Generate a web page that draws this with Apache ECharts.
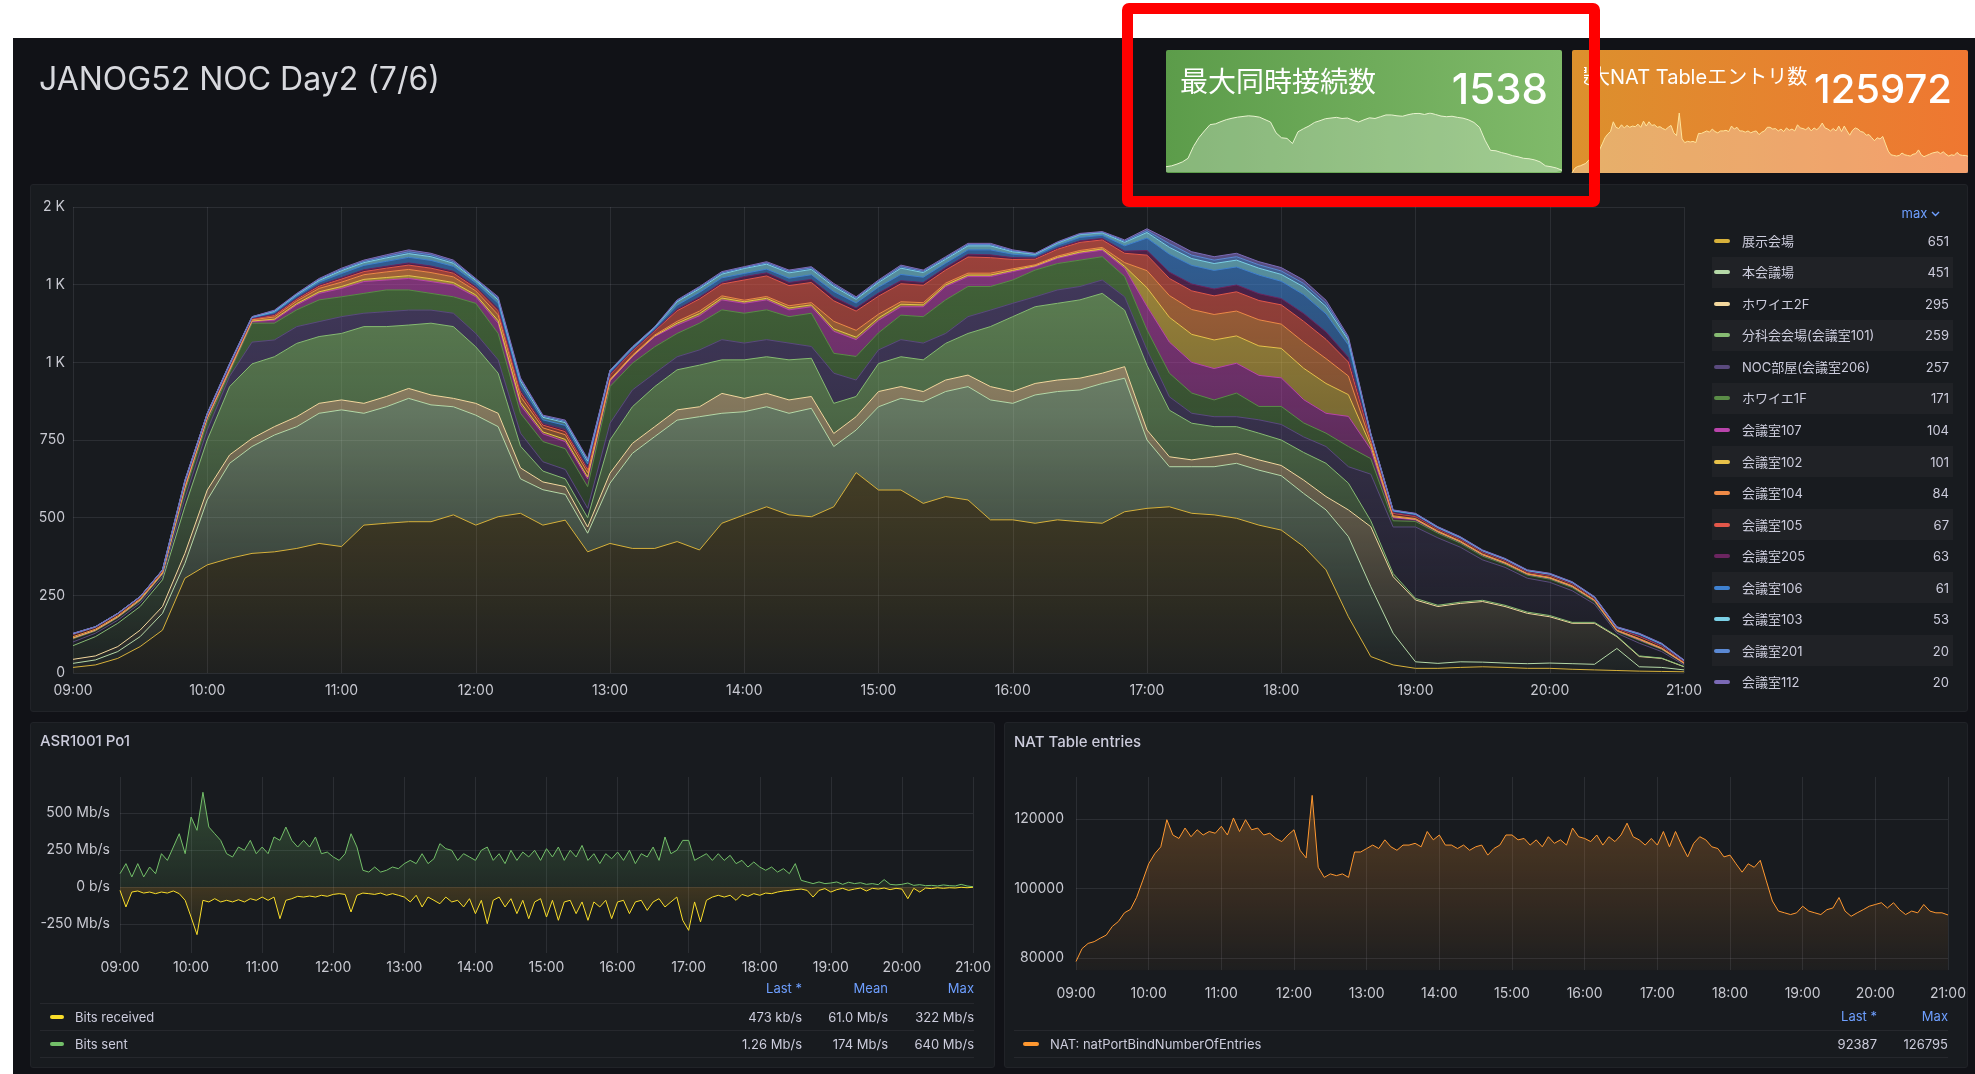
<!DOCTYPE html>
<html>
<head>
<meta charset="utf-8">
<title>JANOG52 NOC Day2</title>
<script src="https://cdn.jsdelivr.net/npm/echarts@6/dist/echarts.min.js"></script>
<style>
html, body { margin: 0; padding: 0; background: #fff; }
body { width: 1975px; height: 1074px; position: relative; overflow: hidden;
       font-family: Inter, "Noto Sans CJK JP", sans-serif; }
.abs { position: absolute; }
#dash { left: 13px; top: 38px; width: 1962px; height: 1036px; background: #111217; }
.panel { position: absolute; background: #181b1f; border: 1px solid #212328; border-radius: 3px; box-sizing: border-box; }
#chart { left: 0; top: 0; width: 1975px; height: 1074px; z-index: 2; }
.txt { position: absolute; color: #ccccdc; white-space: nowrap; z-index: 3; }
.blue { color: #6e9fff; }
.sw { position: absolute; height: 4px; border-radius: 2px; z-index: 3; }
.row { position: absolute; background: #202226; z-index: 1; }
.sep { position: absolute; height: 1px; background: #26282d; z-index: 1; }
.stat { position: absolute; border-radius: 2px; }
#natTitle { position: absolute; left: 1584px; top: 63px; width: 224px; height: 28px; overflow: hidden; z-index: 3; }
#natTitle span { position: absolute; left: -14px; top: 0; line-height: 28px; font-size: 20px; color: #fff; white-space: nowrap; }
#redbox { left: 1122px; top: 3px; width: 478px; height: 204px; border: 11px solid #ff0000;
          border-radius: 7px; box-sizing: border-box; z-index: 5; }
</style>
</head>
<body>
<div id="dash" class="abs"></div>
<div class="panel" style="left:30px;top:184px;width:1938px;height:528px;"></div>
<div class="panel" style="left:30px;top:722px;width:965px;height:346px;"></div>
<div class="panel" style="left:1004px;top:722px;width:964px;height:346px;"></div>
<div class="stat" style="left:1166px;top:50px;width:396px;height:123px;background:linear-gradient(90deg,#5c9c4a,#80ba6a);"></div>
<div class="stat" style="left:1572px;top:50px;width:396px;height:123px;background:linear-gradient(90deg,#dc902d,#ef7731);"></div>
<div id="chart" class="abs"></div>
<div id="labels"></div>
<div id="natTitle"><span>最大NAT Tableエントリ数</span></div>
<div id="redbox" class="abs"></div>

<script>
// 接続数 (10分毎 09:00-21:00)
var rooms = ['展示会場', '本会議場', 'ホワイエ2F', '分科会会場(会議室101)', 'NOC部屋(会議室206)', 'ホワイエ1F',
  '会議室107', '会議室102', '会議室104', '会議室105', '会議室205', '会議室106', '会議室103', '会議室201', '会議室112'];
var roomColors = ['#d7b13b', '#b5d9a8', '#f3d89e', '#86bb72', '#5a4a7e', '#5a8c47', '#b944ab', '#e8c24a',
  '#ee8a47', '#e2574a', '#6b2560', '#3f81d0', '#7bd0e6', '#5b89d4', '#7b6ab6'];
var roomMax = ['651', '451', '295', '259', '257', '171', '104', '101', '84', '67', '63', '61', '53', '20', '20'];

var tenji = [18,26,47,85,138,305,348,369,385,390, 401,417,407,476,482,487,487,509,476,503,
  514,476,492,390,417,401,401,423,396,482, 509,535,509,503,535,645,589,589,546,568,
  557,493,493,482,493,487,482,519,530,535, 514,509,498,476,460,407,332,181,53,26,
  15,15,18,20,18,15,15,12,10,8, 6,5,4];
var honkaigi = [13,16,22,32,54,48,209,306,344,376, 392,419,440,360,375,397,376,348,354,290,
  111,114,83,60,194,306,360,391,429,354, 332,322,327,349,194,137,268,295,327,338,
  365,386,375,413,413,424,450,430,220,129, 150,155,177,177,175,171,193,258,225,102,
  21,16,18,15,14,15,17,18,18,71, 14,13,6];
var foyer2f = [13,13,16,21,22,32,32,27,26,27, 32,32,32,32,33,32,32,27,38,43,
  35,25,25,20,32,32,32,33,32,64, 43,43,43,38,42,43,49,38,33,37,
  37,43,38,37,37,38,33,37,32,32, 22,32,32,33,33,43,43,86,193,182,
  199,183,188,195,182,162,149,130,132,38, 33,29,10];
var bunka = [44,62,75,76,86,150,161,220,240,225, 236,215,214,247,225,204,231,231,182,129,
  70,35,25,30,107,118,129,129,134,108, 124,118,129,123,97,65,90,96,102,118,
  134,193,241,247,247,252,257,182,208,150, 118,97,86,86,82,89,107,86,19,10,
  5,4,4,4,4,4,4,3,3,2, 2,1,1];
var noc = [12,11,10,11,10,27,32,33,70,54, 54,48,54,43,48,48,42,43,43,43,
  42,30,30,30,54,54,43,42,49,65, 54,55,54,38,97,53,44,55,54,32,
  54,53,43,32,43,43,43,43,50,43, 32,32,32,43,50,50,54,53,150,150,
  230,217,177,130,122,109,107,102,59,9, 41,21,5];
var foyer1f = [10,7,8,7,8,22,27,13,61,54, 54,70,64,64,70,65,54,53,97,85,
  64,65,67,70,118,86,85,75,86,96, 96,96,85,107,64,76,55,79,85,108,
  97,76,75,86,85,85,75,65,64,76, 65,54,76,43,58,45,43,65,50,20,
  18,15,13,12,10,10,10,10,8,6, 9,7,4];
var r107 = [2,2,2,3,2,10,11,6,5,10, 16,21,27,38,32,37,38,38,21,33,
  26,25,23,25,18,21,33,27,24,32, 32,32,22,21,71,54,40,27,32,43,
  32,32,27,11,17,22,21,27,76,100, 99,101,96,100,92,75,64,97,30,10,
  5,4,4,4,3,3,3,3,3,2, 2,2,1];
var r102 = [1,1,1,1,1,2,1,2,2,3, 4,5,6,7,8,9,9,8,6,8, 9,6,7,6,2,2,2,6,7,6,
  5,5,6,6,8,8,8,8,6,5, 5,5,4,3,3,4,4,6,60,80, 90,92,88,95,95,101,96,70,12,3,
  2,1,1,1,1,1,1,1,1,1, 2,1,1];
var r104 = [4,3,3,3,3,6,4,5,4,7, 8,11,14,15,18,20,20,18,13,19, 19,13,15,14,3,3,3,6,8,7,
  5,6,7,7,24,22,12,8,7,6, 6,6,5,3,4,5,5,12,55,70, 80,82,80,84,78,84,80,60,10,3,
  2,2,2,2,2,1,2,2,1,1, 2,2,1];
var r105 = [7,6,6,5,5,6,4,4,3,5, 6,7,10,10,12,14,14,12,9,13, 13,9,10,10,15,13,13,34,39,38,
  65,66,65,65,66,62,58,58,56,42, 52,50,30,18,22,26,24,30,50,55, 60,60,62,62,62,67,62,45,12,8,
  7,6,6,6,6,5,6,6,5,5, 7,6,4];
var r205 = [1,0,0,0,1,2,1,2,1,3, 3,4,5,6,6,7,7,6,5,7, 7,5,6,5,2,2,2,5,6,5,
  11,10,10,10,12,10,10,10,9,8, 9,9,6,4,4,5,5,7,15,20, 22,22,22,22,20,25,24,15,4,2,
  2,1,1,1,1,1,1,1,1,1, 2,1,1];
var r106 = [1,1,1,1,1,5,3,5,3,6, 7,9,13,14,16,18,18,16,12,17, 18,12,14,13,6,5,5,13,15,15,
  10,12,14,15,18,16,19,20,17,14, 14,16,11,7,9,11,10,17,40,58, 60,60,58,60,56,61,58,40,8,5,
  4,3,3,3,3,3,3,3,2,2, 4,4,2];
var r103 = [1,1,1,1,1,3,2,3,2,4, 5,6,9,9,11,12,12,10,8,11, 12,8,9,9,5,4,4,11,12,12,
  16,16,17,17,16,12,15,20,15,13, 13,13,8,5,7,9,8,11,18,22, 22,22,22,22,22,25,24,15,3,2,
  2,2,2,1,1,1,1,1,1,1, 2,2,1];
var r201 = [0,0,0,0,0,2,1,1,1,2, 2,3,4,4,5,6,6,5,3,5, 5,4,4,4,1,2,2,3,4,4,
  3,4,5,5,5,4,4,5,4,4, 4,4,3,2,2,2,2,4,6,12, 11,11,11,11,11,11,10,6,2,1,
  1,1,1,1,1,1,1,1,1,1, 1,1,0];
var r112 = [1,0,0,0,0,1,0,1,0,2, 2,3,4,4,5,6,5,5,3,5, 5,3,4,4,1,1,1,3,3,4,
  3,4,4,4,5,4,4,5,4,4, 4,4,3,1,2,2,2,4,6,12, 11,11,11,10,11,11,10,6,1,1,
  1,1,1,1,1,1,1,1,1,1, 1,1,1];
var roomData = [tenji, honkaigi, foyer2f, bunka, noc, foyer1f, r107, r102, r104, r105, r205, r106, r103, r201, r112];

// ASR1001 Po1 (5分毎, Mb/s)
var bitsSent = [90,158,68,158,68,135,90,225,180,270,360,225,
  473,383,640,405,360,315,225,203,270,248,315,225,
  270,225,338,315,405,315,270,315,270,338,225,236,
  203,180,225,360,270,113,101,135,101,113,135,124,
  158,180,158,225,158,191,293,259,248,180,225,203,
  180,248,270,180,225,158,248,180,236,203,248,180,
  259,203,270,180,248,203,281,180,225,158,225,191,
  236,180,248,158,225,203,270,180,338,225,248,315,
  315,180,203,225,180,225,180,214,158,180,135,169,
  135,113,135,101,124,90,158,45,34,23,34,23,
  27,34,18,32,23,29,18,23,16,50,18,14,
  18,27,11,16,9,11,7,14,9,7,18,7,
  2];
var bitsReceived = [23,135,34,27,41,34,45,34,41,27,45,90,
  203,322,90,101,79,101,90,101,86,101,79,90,
  68,90,68,214,90,79,63,68,61,68,56,63,
  50,45,50,169,56,41,45,50,41,56,45,56,
  68,101,56,135,68,90,113,68,101,90,135,79,
  180,90,248,90,68,135,79,180,90,214,101,79,
  203,90,225,101,90,180,101,225,101,135,90,214,
  101,90,180,101,90,158,101,79,135,101,68,225,
  293,101,236,90,68,56,68,56,90,50,63,45,
  56,41,45,34,27,23,18,14,23,68,23,11,
  34,18,9,23,14,7,27,9,14,7,18,9,
  14,79,9,34,7,11,5,9,5,7,2,5,
  2];

// NAT Table entries (5分毎)
var natEntries = [79000,82700,84200,84700,85700,86600,89100,90500,93000,94000,97400,102200,
  107100,110000,112000,119800,115400,114400,117400,114900,116900,115400,116400,115900,
  117900,115400,120300,116400,119800,116900,117400,115400,115900,114400,113500,115400,
  116900,111000,108800,126795,106100,103200,104200,103700,104200,103200,110500,110500,
  111500,112500,111500,114000,112000,111000,112500,112500,113000,112000,116400,114000,
  115400,112500,112500,111500,112500,111000,112000,112500,109600,111500,112500,115400,
  115400,114000,114400,112500,114000,112000,114900,113000,114000,112500,117400,114900,
  114400,113500,115400,112500,114900,113500,115400,118800,114900,114000,112500,114400,
  112500,116400,112000,116400,112500,109100,113000,114900,114000,112000,111500,109100,
  109600,107100,104700,107100,106100,108100,102200,96400,93500,93000,92500,93000,
  94900,93500,93000,92500,93900,94400,97400,93500,92000,93000,93900,94900,
  95400,95900,94400,95900,93900,92500,93500,93000,95400,93500,93000,93000,
  92387];

function pad(n) { return (n < 10 ? '0' : '') + n; }
function hm(m) { return pad(Math.floor(m / 60)) + ':' + pad(m % 60); }
var times10 = [], times5 = [];
for (var m = 540; m <= 1260; m += 10) times10.push(hm(m));
for (var m2 = 540; m2 <= 1260; m2 += 5) times5.push(hm(m2));

function rgba(hex, a) {
  var n = parseInt(hex.slice(1), 16);
  return 'rgba(' + (n >> 16) + ',' + ((n >> 8) & 255) + ',' + (n & 255) + ',' + a + ')';
}

var labelColor = '#c8c9d1';
var gridColor = 'rgba(204,204,220,0.11)';
var font = 'Inter, "Noto Sans CJK JP", sans-serif';

// 最大同時接続数 のスパークライン用
var totals = times10.map(function (_, i) {
  return roomData.reduce(function (s, arr) { return s + arr[i]; }, 0);
});

var chart = echarts.init(document.getElementById('chart'));

var roomSeries = rooms.map(function (name, k) {
  var c = roomColors[k];
  var f = k === 0 ? 0.6 : 1;
  return {
    name: name, type: 'line', stack: 'rooms', xAxisIndex: 0, yAxisIndex: 0,
    data: roomData[k], symbol: 'none', showSymbol: false,
    lineStyle: { color: c, width: 1 }, itemStyle: { color: c },
    areaStyle: {
      color: new echarts.graphic.LinearGradient(0, 207, 0, 673, [
        { offset: 0, color: rgba(c, 1.0 * f) },
        { offset: 0.45, color: rgba(c, 0.68 * f) },
        { offset: 1, color: rgba(c, 0.06) }
      ], true)
    },
    emphasis: { disabled: true }
  };
});

function hiddenX(data) {
  return { type: 'category', data: data, boundaryGap: false, show: false };
}
function frameX(grid, data, every, margin) {
  return {
    type: 'category', gridIndex: grid, data: data, boundaryGap: false,
    axisLine: { show: false }, axisTick: { show: false },
    axisLabel: { interval: every, color: labelColor, fontSize: 14, fontFamily: font, margin: margin },
    splitLine: { show: true, interval: every, lineStyle: { color: gridColor } }
  };
}

var xAxes = [
  frameX(0, times10, 5, 11),
  Object.assign(hiddenX(times10), { gridIndex: 1 }),
  Object.assign(hiddenX(times5), { gridIndex: 2 }),
  Object.assign(hiddenX(times5), { gridIndex: 3 }),
  frameX(4, times5, 11, 8),
  Object.assign(hiddenX(times5), { gridIndex: 5 }),
  frameX(6, times5, 11, 17)
];

function valueY(grid, min, max, step, fmt, margin) {
  return {
    type: 'value', gridIndex: grid, min: min, max: max, interval: step,
    axisLine: { show: false }, axisTick: { show: false },
    axisLabel: { color: labelColor, fontSize: 14, fontFamily: font, margin: margin, formatter: fmt },
    splitLine: { lineStyle: { color: gridColor } }
  };
}

var yAxes = [
  valueY(0, 0, 1500, 250, function (v) { return v >= 1000 ? Math.round(v / 1000) + ' K' : String(v); }, 8),
  { type: 'value', gridIndex: 1, min: 0, max: 'dataMax', show: false },
  { type: 'value', gridIndex: 2, min: 'dataMin', max: 'dataMax', show: false },
  valueY(3, -250, 500, 250, function (v) { return v === 0 ? '0 b/s' : v + ' Mb/s'; }, 10),
  { type: 'value', gridIndex: 4, show: false },
  valueY(5, 80000, 120000, 20000, function (v) { return String(v); }, 12),
  { type: 'value', gridIndex: 6, show: false }
];

var grids = [
  { left: 73, right: 291, top: 207, bottom: 401 },
  { left: 1166, right: 413, top: 113, bottom: 902 },
  { left: 1572, right: 7, top: 113, bottom: 901 },
  { left: 120, right: 1002, top: 813, bottom: 150 },
  { left: 120, right: 1002, top: 777, bottom: 121 },
  { left: 1076, right: 27, top: 819, bottom: 116 },
  { left: 1076, right: 27, top: 777, bottom: 104 }
].map(function (g) { g.outerBoundsMode = 'none'; g.containLabel = false; return g; });

var series = roomSeries.concat([
  {
    type: 'line', xAxisIndex: 1, yAxisIndex: 1, data: totals, symbol: 'none',
    lineStyle: { color: '#e8f3cf', width: 1 }, areaStyle: { color: 'rgba(255,255,255,0.38)' },
    emphasis: { disabled: true }
  },
  {
    type: 'line', xAxisIndex: 2, yAxisIndex: 2, data: natEntries, symbol: 'none',
    lineStyle: { color: '#ffe39a', width: 1 }, areaStyle: { color: 'rgba(255,255,255,0.42)' },
    emphasis: { disabled: true }
  },
  {
    name: 'Bits sent', type: 'line', xAxisIndex: 3, yAxisIndex: 3, data: bitsSent, symbol: 'none', clip: false,
    lineStyle: { color: '#73BF69', width: 1 },
    areaStyle: { color: new echarts.graphic.LinearGradient(0, 0, 0, 1, [
      { offset: 0, color: 'rgba(115,191,105,0.4)' }, { offset: 1, color: 'rgba(115,191,105,0.14)' }]) },
    emphasis: { disabled: true }
  },
  {
    name: 'Bits received', type: 'line', xAxisIndex: 3, yAxisIndex: 3, symbol: 'none', clip: false,
    data: bitsReceived.map(function (v) { return -v; }),
    lineStyle: { color: '#FADE2A', width: 1 },
    areaStyle: { color: new echarts.graphic.LinearGradient(0, 0, 0, 1, [
      { offset: 0, color: 'rgba(250,180,42,0.25)' }, { offset: 1, color: 'rgba(250,222,42,0.04)' }]) },
    emphasis: { disabled: true }
  },
  {
    name: 'NAT', type: 'line', xAxisIndex: 5, yAxisIndex: 5, data: natEntries, symbol: 'none', clip: false,
    lineStyle: { color: '#FF9830', width: 1 },
    areaStyle: { origin: 76500, color: new echarts.graphic.LinearGradient(0, 0, 0, 1, [
      { offset: 0, color: 'rgba(255,152,48,0.38)' }, { offset: 1, color: 'rgba(255,152,48,0.04)' }]) },
    emphasis: { disabled: true }
  }
]);

chart.setOption({
  animation: false,
  backgroundColor: 'transparent',
  grid: grids,
  xAxis: xAxes,
  yAxis: yAxes,
  series: series
});

// テキスト類
var html = [];
function text(str, x, cy, size, opts) {
  opts = opts || {};
  var h = Math.round(size * 1.4);
  var style = 'top:' + (cy - h / 2) + 'px;height:' + h + 'px;line-height:' + h + 'px;font-size:' + size + 'px;';
  if (opts.right) style += 'right:' + (1975 - x) + 'px;';
  else style += 'left:' + x + 'px;';
  if (opts.color) style += 'color:' + opts.color + ';';
  if (opts.weight) style += 'font-weight:' + opts.weight + ';';
  html.push('<div class="txt' + (opts.cls ? ' ' + opts.cls : '') + '" style="' + style + '">' + str + '</div>');
}
function box(cls, x, y, w, h, color) {
  html.push('<div class="' + cls + '" style="left:' + x + 'px;top:' + y + 'px;width:' + w + 'px;height:' + h + 'px;' +
    (color ? 'background:' + color + ';' : '') + '"></div>');
}

text('JANOG52 NOC Day2 (7/6)', 39, 78, 32, { color: '#d8d9de' });
text('最大同時接続数', 1180, 82, 28, { color: '#ffffff' });
text('1538', 1548, 88, 42, { right: true, color: '#ffffff', weight: 500 });
text('125972', 1952, 89, 40, { right: true, color: '#ffffff', weight: 500 });

// メイン凡例
text('max <svg width="9" height="6" style="vertical-align:middle"><polyline points="1,1 4.5,4.5 8,1" fill="none" stroke="#6e9fff" stroke-width="1.4"/></svg>',
  1940, 213, 13, { right: true, cls: 'blue' });
rooms.forEach(function (name, k) {
  var cy = 240.7 + k * 31.55;
  if (k % 2 === 1) box('row', 1712, Math.round(cy - 15.5), 241, 31);
  box('sw', 1714, Math.round(cy - 2), 16, 4, roomColors[k]);
  text(name, 1742, cy, 13);
  text(roomMax[k], 1949, cy, 13, { right: true });
});

// ASR1001 Po1
text('ASR1001 Po1', 40, 740, 15, { weight: 500 });
text('Last *', 802, 988, 13, { right: true, cls: 'blue' });
text('Mean', 888, 988, 13, { right: true, cls: 'blue' });
text('Max', 974, 988, 13, { right: true, cls: 'blue' });
box('sep', 40, 1003, 934, 1);
box('sep', 40, 1030, 934, 1);
box('sep', 40, 1057, 934, 1);
box('sw', 50, 1015, 14, 4, '#FADE2A');
text('Bits received', 75, 1017, 13);
text('473 kb/s', 802, 1017, 13, { right: true });
text('61.0 Mb/s', 888, 1017, 13, { right: true });
text('322 Mb/s', 974, 1017, 13, { right: true });
box('sw', 50, 1042, 14, 4, '#73BF69');
text('Bits sent', 75, 1044, 13);
text('1.26 Mb/s', 802, 1044, 13, { right: true });
text('174 Mb/s', 888, 1044, 13, { right: true });
text('640 Mb/s', 974, 1044, 13, { right: true });

// NAT Table entries
text('NAT Table entries', 1014, 741, 15, { weight: 500 });
text('Last *', 1877, 1016, 13, { right: true, cls: 'blue' });
text('Max', 1948, 1016, 13, { right: true, cls: 'blue' });
box('sep', 1014, 1030, 934, 1);
box('sep', 1014, 1057, 934, 1);
box('sw', 1023, 1042, 16, 4, '#FF9830');
text('NAT: natPortBindNumberOfEntries', 1050, 1044, 13);
text('92387', 1877, 1044, 13, { right: true });
text('126795', 1948, 1044, 13, { right: true });

document.getElementById('labels').innerHTML = html.join('');
</script>
</body>
</html>
